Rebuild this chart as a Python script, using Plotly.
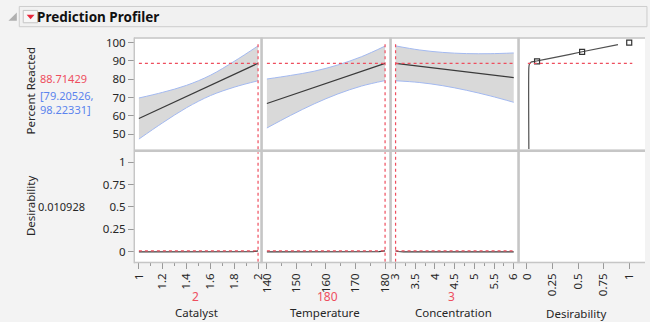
import plotly.graph_objects as go
from plotly.subplots import make_subplots

W, H = 650, 322

# ---------------- data ----------------
current_response = 88.71429
ci_low, ci_high = 79.20526, 98.22331
current_desir = 0.010928

catalyst = [1, 1.2, 1.4, 1.6, 1.8, 2]
cat_pred = [58.6, 64.6, 70.6, 76.7, 82.7, 88.7]
cat_upper = [69.8, 72.9, 76.7, 82.2, 89.8, 98.2]
cat_lower = [47.4, 56.3, 64.5, 71.1, 75.7, 79.2]
cat_d_x = [1, 1.2, 1.4, 1.6, 1.8, 1.9, 1.96, 2]
cat_d = [0, 0, 0, 0, 0, 0, 0.002, 0.0109]
cat_current = 2

temperature = [140, 148, 156, 164, 172, 180]
tmp_pred = [66.8, 71.2, 75.5, 79.9, 84.3, 88.7]
tmp_upper = [80.15, 82.1, 84.4, 87.8, 92.3, 98.1]
tmp_lower = [53.45, 60.3, 66.6, 72.0, 76.3, 79.3]
tmp_d_x = [140, 150, 160, 170, 175, 178, 180]
tmp_d = [0, 0, 0, 0, 0, 0.002, 0.0109]
tmp_current = 180

concentration = [3, 3.6, 4.2, 4.8, 5.4, 6]
con_pred = [88.7, 87.14, 85.58, 84.02, 82.46, 80.9]
con_upper = [98.2, 96.0, 94.65, 94.0, 93.96, 94.35]
con_lower = [79.2, 78.26, 76.5, 74.0, 70.96, 67.45]
con_d_x = [3, 3.06, 3.2, 3.5, 4, 5, 6]
con_d = [0.0109, 0.004, 0, 0, 0, 0, 0]
con_current = 3

desir_curve_d = [0.02, 0.02, 0.025, 0.04, 0.07, 0.3, 0.54, 0.89]
desir_curve_y = [42, 86.5, 88.2, 89.3, 89.7, 92.2, 95, 98.9]
desir_marker_d = [0.1, 0.54, 1.0]
desir_marker_y = [89.8, 95, 100]

factor_names = ["Catalyst", "Temperature", "Concentration", "Desirability"]

# ---------------- styling ----------------
FONT = "Noto Sans"
RED = "#ee4e5e"
BLUE = "#5b84ee"
BAND_LINE = "#a3b9f0"
BAND_FILL = "#d9d9d9"
PRED = "#3a3a3a"
SEP = "#c6c6c6"
TXT = "#262626"
TICKC = "#9a9a9a"


def px(x):
    return x / W


def py(y):
    return 1 - y / H


fig = make_subplots(rows=2, cols=4)

xdom = [(132, 259), (262, 390), (393, 520), (523, 650)]
ydom_top = (35, 147)
ydom_bot = (150, 261)

xranges = [[0.967, 2.0165], [138.67, 181.33], [2.908, 6.083], [-0.067, 1.154]]
dticks = [0.2, 10, 0.5, 0.25]
tick0s = [1, 140, 3, 0]
minor_dt = [0.1, 5, 0.25, None]

# top row factor panels
top_sets = [
    (catalyst, cat_pred, cat_upper, cat_lower),
    (temperature, tmp_pred, tmp_upper, tmp_lower),
    (concentration, con_pred, con_upper, con_lower),
]
for i, (xv, pr, up, lo) in enumerate(top_sets):
    c = i + 1
    fig.add_trace(go.Scatter(x=xv, y=lo, mode="lines", line=dict(color=BAND_LINE, width=1, shape="spline"),
                             hoverinfo="skip", showlegend=False), row=1, col=c)
    fig.add_trace(go.Scatter(x=xv, y=up, mode="lines", line=dict(color=BAND_LINE, width=1, shape="spline"),
                             fill="tonexty", fillcolor=BAND_FILL, hoverinfo="skip", showlegend=False), row=1, col=c)
    fig.add_trace(go.Scatter(x=xv, y=pr, mode="lines", line=dict(color=PRED, width=1.2),
                             showlegend=False), row=1, col=c)

# top desirability panel
fig.add_trace(go.Scatter(x=desir_curve_d, y=desir_curve_y, mode="lines",
                         line=dict(color="#505050", width=1.2, shape="spline", smoothing=0.6),
                         showlegend=False), row=1, col=4)
fig.add_trace(go.Scatter(x=desir_marker_d, y=desir_marker_y, mode="markers",
                         marker=dict(symbol="square-open", size=5, color="#333333", line=dict(width=1.2)),
                         showlegend=False), row=1, col=4)

# bottom row desirability traces
bot_sets = [(cat_d_x, cat_d), (tmp_d_x, tmp_d), (con_d_x, con_d)]
for i, (xv, dv) in enumerate(bot_sets):
    fig.add_trace(go.Scatter(x=xv, y=dv, mode="lines", line=dict(color=PRED, width=1.2),
                             showlegend=False), row=2, col=i + 1)
# empty bottom-right panel (invisible trace so the subplot is drawn)
fig.add_trace(go.Scatter(x=[None], y=[None], mode="lines", showlegend=False, hoverinfo="skip"), row=2, col=4)

shapes = []
currents = [cat_current, tmp_current, con_current]
ranges_x = [catalyst, temperature, concentration]
for i in range(3):
    xr_top = "x%d" % (i + 1) if i > 0 else "x"
    yr_top = "y%d" % (i + 1) if i > 0 else "y"
    xr_bot = "x%d" % (i + 5)
    yr_bot = "y%d" % (i + 5)
    lo_x = ranges_x[i][0]
    hi_x = ranges_x[i][-1]
    shapes.append(dict(type="line", xref=xr_top, yref=yr_top, x0=lo_x, x1=hi_x,
                       y0=current_response, y1=current_response,
                       line=dict(color=RED, width=1.2, dash="dot")))
    shapes.append(dict(type="line", xref=xr_bot, yref=yr_bot, x0=lo_x, x1=hi_x,
                       y0=current_desir, y1=current_desir,
                       line=dict(color=RED, width=1.2, dash="dot")))
    shapes.append(dict(type="line", xref=xr_top, yref=yr_top + " domain", x0=currents[i], x1=currents[i],
                       y0=0, y1=0.96, line=dict(color=RED, width=1.2, dash="dot")))
    shapes.append(dict(type="line", xref=xr_bot, yref=yr_bot + " domain", x0=currents[i], x1=currents[i],
                       y0=0, y1=1, line=dict(color=RED, width=1.2, dash="dot")))

shapes.append(dict(type="line", xref="x4", yref="y4", x0=0.01, x1=1.03,
                   y0=current_response, y1=current_response,
                   line=dict(color=RED, width=1.2, dash="dot")))


def hline(y, x0, x1, w):
    return dict(type="line", xref="paper", yref="paper", x0=px(x0), x1=px(x1), y0=py(y), y1=py(y),
                line=dict(color=SEP, width=w), layer="above")


def vline(x, y0, y1, w):
    return dict(type="line", xref="paper", yref="paper", x0=px(x), x1=px(x), y0=py(y0), y1=py(y1),
                line=dict(color=SEP, width=w), layer="above")


shapes += [
    hline(34.5, 131, 650, 1.5),
    hline(148.5, 131, 650, 2.5),
    hline(261.8, 131, 650, 1.5),
    vline(131.3, 34, 262.5, 1.5),
    vline(260.6, 34, 262.5, 2.5),
    vline(391.6, 34, 262.5, 2.5),
    vline(521.6, 34, 262.5, 2.5),
]

# header bar
shapes.append(dict(type="rect", xref="paper", yref="paper", x0=px(14.5), x1=px(652), y0=py(23), y1=py(2.5),
                   line=dict(color="#cdcdcd", width=1), fillcolor="#f1f1f1", layer="below"))
shapes.append(dict(type="rect", xref="paper", yref="paper", x0=px(18.5), x1=px(33), y0=py(19), y1=py(6.5),
                   line=dict(color="#c4c4c4", width=1), fillcolor="#f7f7f7", layer="below"))


def path(pts):
    return "M " + " L ".join("%f,%f" % (px(a), py(b)) for a, b in pts) + " Z"


shapes.append(dict(type="path", xref="paper", yref="paper", path=path([(22, 11), (30, 11), (26, 15.5)]),
                   fillcolor="#e8283c", line=dict(width=0)))
shapes.append(dict(type="path", xref="paper", yref="paper", path=path([(12, 8.5), (12, 17), (3.5, 17)]),
                   fillcolor="#b0b0b0", line=dict(width=0)))

annotations = []


def txt(x, y, text, color=TXT, size=12, xanchor="center", angle=0, bold=False):
    annotations.append(dict(xref="paper", yref="paper", x=px(x), y=py(y),
                            text=("<b>%s</b>" % text) if bold else text,
                            showarrow=False, xanchor=xanchor, yanchor="middle", textangle=angle,
                            borderpad=0, font=dict(family=FONT, size=size, color=color)))


txt(31, 13, "Prediction Profiler", color="#111111", size=13.5, xanchor="left", bold=True)
txt(26, 88, "Percent Reacted", angle=-90, size=11.5)
txt(35, 75, "%.5f" % current_response, color=RED, size=11, xanchor="left")
txt(35, 92.5, "[%.5f," % ci_low, color=BLUE, size=11, xanchor="left")
txt(35, 107, "%.5f]" % ci_high, color=BLUE, size=11, xanchor="left")
txt(26, 205, "Desirability", angle=-90, size=11.5)
txt(32, 205, "%.6f" % current_desir, size=11, xanchor="left")

cur_labels = [str(cat_current), str(tmp_current), str(con_current)]
cur_x = [193, 328, 453]
for cx, lab in zip(cur_x, cur_labels):
    txt(cx, 296.5, lab, color=RED, size=12)
title_x = [194, 325, 456, 580]
title_y = [312.5, 312.5, 312.5, 313.5]
for tx, ty, name in zip(title_x, title_y, factor_names):
    txt(tx, ty, name, size=11.5)

fig.update_layout(
    width=W, height=H, margin=dict(l=0, r=0, t=0, b=0),
    paper_bgcolor="#f3f3f3", plot_bgcolor="white",
    shapes=shapes, annotations=annotations, showlegend=False,
    font=dict(family=FONT, size=11.5, color=TXT),
)

for i in range(4):
    for row in (1, 2):
        n = i + 1 + (row - 1) * 4
        xa = "xaxis" if n == 1 else "xaxis%d" % n
        ya = "yaxis" if n == 1 else "yaxis%d" % n
        dom = ydom_top if row == 1 else ydom_bot
        xcfg = dict(domain=[px(xdom[i][0]), px(xdom[i][1])], range=xranges[i], showgrid=False,
                    zeroline=False, showline=False, fixedrange=True)
        if row == 2:
            xcfg.update(ticks="outside", ticklen=6, tickcolor=TICKC, tickwidth=1, tickangle=-90,
                        dtick=dticks[i], tick0=tick0s[i],
                        tickfont=dict(family=FONT, size=11.5, color=TXT), showticklabels=True)
            if minor_dt[i]:
                xcfg["minor"] = dict(ticks="outside", ticklen=3, tickcolor=TICKC, dtick=minor_dt[i])
        else:
            xcfg.update(showticklabels=False, ticks="")
        fig.layout[xa].update(**xcfg)
        ycfg = dict(domain=[py(dom[1]), py(dom[0])], showgrid=False, zeroline=False, showline=False,
                    fixedrange=True)
        ycfg["range"] = [41.9, 102.2] if row == 1 else [-0.11, 1.11]
        if i == 0:
            ycfg.update(ticks="outside", ticklen=6, tickcolor=TICKC,
                        tickfont=dict(family=FONT, size=11.5, color=TXT))
            if row == 1:
                ycfg.update(tickvals=[50, 60, 70, 80, 90, 100])
            else:
                ycfg.update(tickvals=[0, 0.25, 0.5, 0.75, 1], ticktext=["0", "0.25", "0.5", "0.75", "1"])
        else:
            ycfg.update(showticklabels=False, ticks="")
        fig.layout[ya].update(**ycfg)

fig.write_html("out.html")
